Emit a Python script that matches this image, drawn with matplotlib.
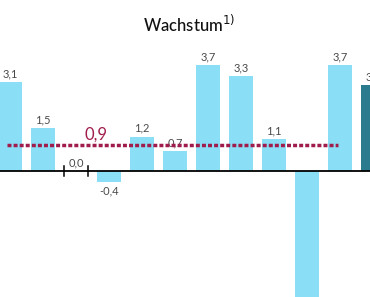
import matplotlib
matplotlib.use("Agg")
import matplotlib.pyplot as plt

years = [2000, 2001, 2002, 2003, 2004, 2005, 2006, 2007, 2008, 2009, 2010, 2011]
growth = [3.1, 1.5, 0.0, -0.4, 1.2, 0.7, 3.7, 3.3, 1.1, -5.1, 3.7, 3.0]
labels = ["3,1", "1,5", "0,0", "-0,4", "1,2", "0,7", "3,7", "3,3", "1,1", "-5,1", "3,7", "3,0"]
average = 0.9
average_label = "0,9"
title = "Wachstum"

LIGHT = "#8adff6"
DARK = "#2a7b8e"
RED = "#a01c4c"

plt.rcParams['font.family'] = ['Lato', 'DejaVu Sans']

fig = plt.figure(figsize=(3.70, 2.97), dpi=100)
ax = fig.add_axes([0, 0, 1, 1])
ax.set_axis_off()

px = 33.0
x = list(range(len(growth)))
colors = [LIGHT] * (len(growth) - 1) + [DARK]
w = 0.74
ax.bar(x, growth, width=w, color=colors, zorder=2)

ax.set_xlim(-10 / px, 360 / px)
ppu = 28.7
ax.set_ylim(-126 / ppu, 171 / ppu)

ax.axhline(0, color="black", lw=1.3, zorder=3)

# tick marks at edges of zero bar
for i, v in enumerate(growth):
    if v == 0:
        for e in (i - w / 2, i + w / 2):
            ax.plot([e, e], [-0.17, 0.17], color="black", lw=1.1, zorder=3)

ymin = ax.get_ylim()[0]
for i, (v, lab) in enumerate(zip(growth, labels)):
    if v >= 0:
        ax.text(i, v + 0.1, lab, ha="center", va="bottom", fontsize=8, color="#4a4a4a", zorder=4)
    elif v - 0.6 > ymin:
        ax.text(i, v - 0.1, lab, ha="center", va="top", fontsize=8, color="#4a4a4a", zorder=4)

ax.plot([-0.1, 9.95], [average, average], color=RED, lw=2.5,
        linestyle=(0, (1.15, 0.6)), solid_capstyle="butt", dash_capstyle="butt", zorder=5)
ax.text(2.6, average + 0.1, average_label, ha="center", va="bottom", fontsize=12, color=RED, zorder=6)

fig.text(0.51, 0.918, title + r"$^{1)}$", ha="center", va="center", fontsize=12,
         color="#111111", fontweight="medium")

fig.savefig("out.png", dpi=100)
